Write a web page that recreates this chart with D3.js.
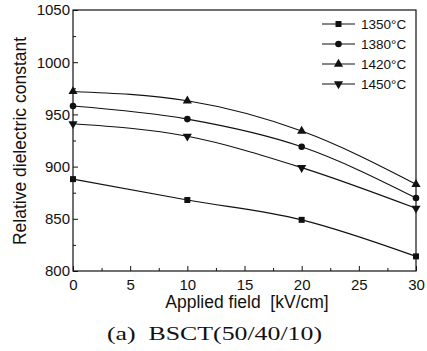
<!DOCTYPE html>
<html><head><meta charset="utf-8">
<script src="https://cdn.jsdelivr.net/npm/d3@7"></script>
<style>body{margin:0;background:#fff}svg{display:block}</style>
</head><body><svg id="c" width="427" height="351"></svg>
<script>
const fields = [0, 10, 20, 30];
const seriesNames = ["1350°C", "1380°C", "1420°C", "1450°C"];
const s1350 = [888, 868, 849, 814];
const s1380 = [958, 945.5, 919, 870];
const s1420 = [972, 963, 934, 883];
const s1450 = [941, 929, 899, 860];
const markers = ["square", "circle", "triangle", "triangleDown"];
const xTicks = [0, 5, 10, 15, 20, 25, 30];
const yTicks = [800, 850, 900, 950, 1000, 1050];

const allSeries = [s1350, s1380, s1420, s1450];
const svg = d3.select("#c");
const L = 73, R = 416, T = 10, B = 271;
const x = d3.scaleLinear().domain([0, 30]).range([L, R]);
const y = d3.scaleLinear().domain([800, 1050]).range([B, T]);
const font = "Arial, 'Liberation Sans', sans-serif";

// frame
svg.append("rect").attr("x", L).attr("y", T).attr("width", R - L).attr("height", B - T)
  .attr("fill", "none").attr("stroke", "#111").attr("stroke-width", 1.2);

// x axis
const xa = svg.append("g").attr("transform", `translate(0,${B})`)
  .call(d3.axisBottom(x).tickValues(xTicks).tickSize(-5).tickPadding(8).tickFormat(d3.format("d")));
xa.select(".domain").remove();
xa.selectAll("text").attr("font-family", font).attr("font-size", 15).attr("fill", "#111");
xa.selectAll("line").attr("stroke", "#111");
svg.append("g").attr("transform", `translate(0,${B})`)
  .call(d3.axisBottom(x).tickValues(d3.range(2.5, 30, 5)).tickSize(-3).tickFormat(""))
  .call(g => g.select(".domain").remove()).selectAll("line").attr("stroke", "#111");

// y axis
const ya = svg.append("g").attr("transform", `translate(${L},0)`)
  .call(d3.axisLeft(y).tickValues(yTicks).tickSize(-5).tickPadding(3).tickFormat(d3.format("d")));
ya.select(".domain").remove();
ya.selectAll("text").attr("font-family", font).attr("font-size", 15).attr("fill", "#111");
ya.selectAll("line").attr("stroke", "#111");
svg.append("g").attr("transform", `translate(${L},0)`)
  .call(d3.axisLeft(y).tickValues(d3.range(825, 1050, 50)).tickSize(-3).tickFormat(""))
  .call(g => g.select(".domain").remove()).selectAll("line").attr("stroke", "#111");

// titles
svg.append("text").attr("x", 247).attr("y", 308).attr("text-anchor", "middle")
  .attr("font-family", font).attr("font-size", 17.5).attr("fill", "#111").text("Applied field\u00a0 [kV/cm]");
svg.append("text").attr("transform", `translate(26,${141}) rotate(-90)`).attr("text-anchor", "middle")
  .attr("font-family", font).attr("font-size", 17.5).attr("fill", "#111").text("Relative dielectric constant");
svg.append("text").attr("x", 107).attr("y", 340)
  .attr("font-family", "'Liberation Serif', 'DejaVu Serif', serif").attr("font-size", 19).attr("fill", "#111")
  .attr("textLength", 215).attr("lengthAdjust", "spacingAndGlyphs")
  .text("(a)\u00a0 BSCT(50/40/10)");

function sym(type) {
  const m = { square: d3.symbolSquare, circle: d3.symbolCircle, triangle: d3.symbolTriangle, triangleDown: d3.symbolTriangle };
  const size = { square: 36, circle: 34, triangle: 36, triangleDown: 36 };
  return d3.symbol().type(m[type]).size(size[type])();
}

const line = d3.line().x((d, i) => x(fields[i])).y(d => y(d)).curve(d3.curveMonotoneX);
allSeries.forEach((s, k) => {
  svg.append("path").attr("d", line(s)).attr("fill", "none").attr("stroke", "#111").attr("stroke-width", 1.1);
  svg.append("g").selectAll("path").data(s).join("path")
    .attr("d", sym(markers[k]))
    .attr("transform", (d, i) => `translate(${x(fields[i])},${y(d)})` + (markers[k] === "triangleDown" ? " rotate(180)" : ""))
    .attr("fill", "#111");
});

// legend
const lg = svg.append("g");
seriesNames.forEach((n, k) => {
  const ly = 24 + k * 20;
  lg.append("line").attr("x1", 322).attr("x2", 355).attr("y1", ly).attr("y2", ly).attr("stroke", "#111").attr("stroke-width", 1.1);
  lg.append("path").attr("d", sym(markers[k]))
    .attr("transform", `translate(338.5,${ly})` + (markers[k] === "triangleDown" ? " rotate(180)" : "")).attr("fill", "#111");
  lg.append("text").attr("x", 361).attr("y", ly + 5).attr("font-family", font).attr("font-size", 13.5).attr("fill", "#111").text(n);
});
</script></body></html>
